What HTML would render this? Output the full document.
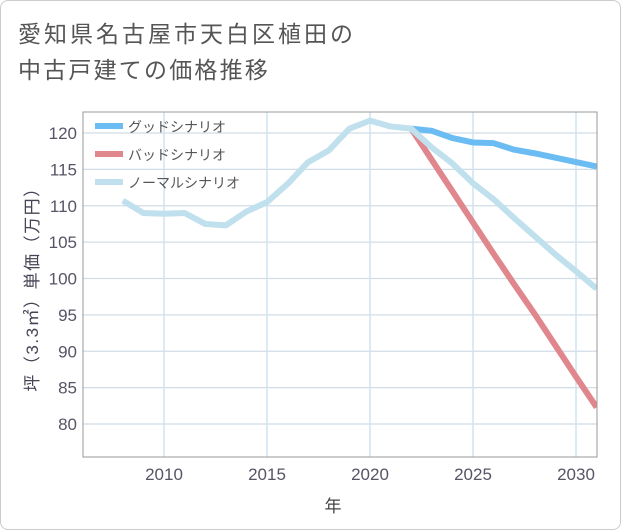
<!DOCTYPE html>
<html><head><meta charset="utf-8"><style>
body{margin:0;background:#fff;font-family:"Liberation Sans","Noto Sans CJK JP",sans-serif;}
#wrap{position:relative;width:619px;height:528px;border:1px solid #ccc;border-radius:8px;background:#fff;overflow:hidden}
</style></head><body>
<div id="wrap">
<svg id="chart" width="621" height="530" style="position:absolute;left:-1px;top:-1px">
<text x="18" y="42" font-size="23" letter-spacing="3" fill="#555">愛知県名古屋市天白区植田の</text>
<text x="18" y="78" font-size="23" letter-spacing="2.2" fill="#555">中古戸建ての価格推移</text>
<g id="grid"></g><g id="series"></g><g id="axes"></g>
<text x="333" y="512" font-size="17" fill="#444" text-anchor="middle">年</text>
<text transform="translate(38,285) rotate(-90)" font-size="17" letter-spacing="1.5" fill="#445" text-anchor="middle">坪（3.3㎡）単価（万円）</text>
</svg>
</div>
<script>
const years=[2008,2009,2010,2011,2012,2013,2014,2015,2016,2017,2018,2019,2020,2021,2022,2023,2024,2025,2026,2027,2028,2029,2030,2031];
const normalVals=[110.7,109.0,108.9,109.0,107.5,107.3,109.2,110.5,113.0,116.0,117.6,120.6,121.7,120.9,120.6,118.0,115.8,113.1,110.9,108.3,105.8,103.3,101.0,98.6];
const futureYears=[2022,2023,2024,2025,2026,2027,2028,2029,2030,2031];
const goodVals=[120.6,120.3,119.3,118.7,118.6,117.7,117.2,116.6,116.0,115.4];
const badVals=[120.6,116.3,112.0,107.7,103.4,99.2,95.1,90.8,86.5,82.3];
const yTicks=[80,85,90,95,100,105,110,115,120];
const xTicks=[2010,2015,2020,2025,2030];
const L=83,R=597,T=112,B=457;
const xs=y=>164+(y-2010)*20.6;
const ys=v=>133+(120-v)*7.275;
const NS='http://www.w3.org/2000/svg';
function mk(t,a,p){const e=document.createElementNS(NS,t);for(const k in a)e.setAttribute(k,a[k]);p.appendChild(e);return e;}
const grid=document.getElementById('grid'),axes=document.getElementById('axes'),ser=document.getElementById('series');
yTicks.forEach(v=>{
const l=mk('line',{x1:L,x2:R,y1:ys(v),y2:ys(v),stroke:'#d0dde6','stroke-width':1.2},grid);


const t=mk('text',{x:77,y:ys(v)+6,'font-size':17,fill:'#556','text-anchor':'end'},axes);t.textContent=v;


});
xTicks.forEach(y=>{
const l=mk('line',{x1:xs(y),x2:xs(y),y1:T,y2:B,stroke:'#cfe3ef','stroke-width':1.5},grid);


const t=mk('text',{x:xs(y),y:480,'font-size':17,fill:'#556','text-anchor':'middle'},axes);t.textContent=y;


});
const fr=mk('rect',{x:L,y:T,width:R-L,height:B-T,fill:'none',stroke:'#999','stroke-width':1},axes);


const cp=mk('clipPath',{id:'cp'},ser);mk('rect',{x:L,y:T,width:R-L,height:B-T},cp);
function line(xv,yv,color,name){const p=mk('polyline',{points:xv.map((x,i)=>xs(x)+','+ys(yv[i])).join(' '),fill:'none',stroke:color,'stroke-width':6,'stroke-linejoin':'round','clip-path':'url(#cp)'},ser);

}
line(futureYears,goodVals,'#6bbcf3','good-scenario-line');
line(futureYears,badVals,'#e0868d','bad-scenario-line');
line(years,normalVals,'#bfe0ec','normal-scenario-line');
const leg=[['グッドシナリオ','#6bbcf3'],['バッドシナリオ','#e0868d'],['ノーマルシナリオ','#bfe0ec']];
leg.forEach((d,i)=>{const y=126+i*28;
const g=mk('g',{},axes);


mk('line',{x1:95,x2:123,y1:y,y2:y,stroke:d[1],'stroke-width':6},g);
const t=mk('text',{x:128,y:y+6,'font-size':14,fill:'#555'},g);t.textContent=d[0];});
</script>
</body></html>
